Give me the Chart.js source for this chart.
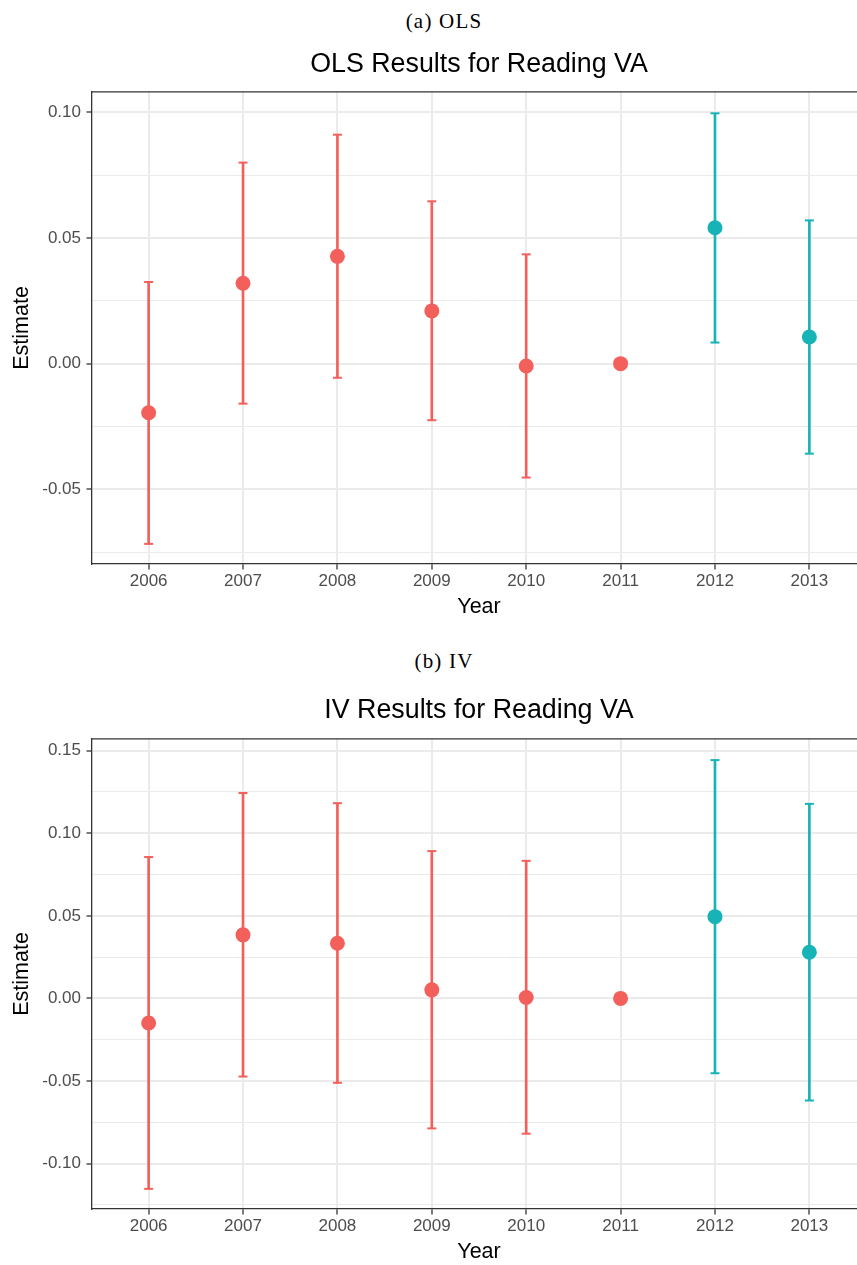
<!DOCTYPE html>
<html>
<head>
<meta charset="utf-8">
<script src="https://cdn.jsdelivr.net/npm/chart.js@4/dist/chart.umd.min.js"></script>
<style>
  html, body { margin: 0; padding: 0; background: #fff; }
  body { width: 857px; height: 1265px; overflow: hidden; position: relative; }
  .cap { position: absolute; left: 0; width: 888px; text-align: center;
         font-family: "Liberation Serif", "DejaVu Serif", serif; font-size: 21px;
         line-height: 21px; letter-spacing: 1.2px; color: #000; }
  .panel { position: absolute; left: 0; width: 866px; }
  canvas { display: block; }
</style>
</head>
<body>
<div class="cap" style="top:11px">(a) OLS</div>
<div class="panel" style="top:36px;height:586px"><canvas id="olsChart" width="866" height="586"></canvas></div>
<div class="cap" style="top:651px">(b) IV</div>
<div class="panel" style="top:683px;height:584px"><canvas id="ivChart" width="866" height="584"></canvas></div>

<script>
const years = [2006, 2007, 2008, 2009, 2010, 2011, 2012, 2013];
const period = ["pre", "pre", "pre", "pre", "pre", "pre", "post", "post"];

const olsEst = [-0.0195, 0.0320, 0.0427, 0.0210, -0.0009, 0, 0.0541, 0.0106];
const olsLo = [-0.0717, -0.0159, -0.0056, -0.0225, -0.0453, null, 0.0084, -0.0358];
const olsHi = [0.0325, 0.0800, 0.0911, 0.0646, 0.0435, null, 0.0996, 0.0570];

const ivEst = [-0.0149, 0.0385, 0.0334, 0.0052, 0.0006, 0, 0.0495, 0.0280];
const ivLo = [-0.1153, -0.0473, -0.0511, -0.0787, -0.0819, null, -0.0453, -0.0618];
const ivHi = [0.0856, 0.1244, 0.1182, 0.0892, 0.0833, null, 0.1443, 0.1178];

const olsMajor = [-0.05, 0, 0.05, 0.10];
const olsMinor = [-0.075, -0.025, 0.025, 0.075];
const ivMajor = [-0.10, -0.05, 0, 0.05, 0.10, 0.15];
const ivMinor = [-0.125, -0.075, -0.025, 0.025, 0.075, 0.125];

const colorFor = { pre: "#F3605C", post: "#17B3B6" };
const colors = period.map((p) => colorFor[p]);

const tickFont = { family: "'Liberation Sans', Arial, sans-serif", size: 17 };
const axisTitleFont = { family: "'Liberation Sans', Arial, sans-serif", size: 21.5 };

// top edge of the panel border (left/bottom come from the axes)
const topBorder = {
  id: "topBorder",
  afterDraw(chart) {
    const { ctx, chartArea } = chart;
    ctx.save();
    ctx.strokeStyle = "#333333";
    ctx.lineWidth = 1.3;
    ctx.beginPath();
    ctx.moveTo(chartArea.left, chartArea.top);
    ctx.lineTo(chartArea.right, chartArea.top);
    ctx.stroke();
    ctx.restore();
  },
};

function makePanel(id, title, est, lo, hi, major, minor, yMin, yMax, titlePad) {
  const isMajor = (v) => major.some((m) => Math.abs(m - v) < 1e-9);
  const yTicks = major.concat(minor).sort((a, b) => a - b);

  new Chart(document.getElementById(id), {
    type: "scatter",
    data: {
      datasets: [
        {
          type: "scatter",
          data: years.map((y, i) => ({ x: y, y: est[i] })),
          backgroundColor: colors,
          borderWidth: 0,
          pointRadius: 7.5,
          order: 0,
        },
        {
          type: "scatter",
          data: years.map((y, i) => ({ x: y, y: hi[i] })),
          pointStyle: "line",
          borderColor: colors,
          borderWidth: 2,
          pointRadius: 4.5,
          order: 1,
        },
        {
          type: "scatter",
          data: years.map((y, i) => ({ x: y, y: lo[i] })),
          pointStyle: "line",
          borderColor: colors,
          borderWidth: 2,
          pointRadius: 4.5,
          order: 1,
        },
        {
          type: "bar",
          data: years.map((y, i) => ({ x: y, y: lo[i] === null ? null : [lo[i], hi[i]] })),
          backgroundColor: colors,
          borderWidth: 0,
          barThickness: 2,
          order: 2,
        },
      ],
    },
    options: {
      responsive: false,
      animation: false,
      layout: { padding: 0, autoPadding: false },
      plugins: {
        legend: { display: false },
        tooltip: { enabled: false },
        title: {
          display: true,
          text: title,
          fullSize: false,
          color: "#000",
          font: { family: "'Liberation Sans', Arial, sans-serif", size: 26.8, weight: "normal" },
          padding: titlePad,
        },
      },
      scales: {
        x: {
          type: "linear",
          min: 2005.4,
          max: 2013.6,
          offset: false,
          afterFit: (s) => { s.height = 58; },
          afterBuildTicks: (s) => { s.ticks = years.map((v) => ({ value: v })); },
          grid: {
            offset: false,
            color: "#EBEBEB",
            lineWidth: 2,
            tickColor: "#333333",
            tickLength: 5.5,
            tickWidth: 1.3,
          },
          border: { display: true, color: "#333333", width: 1.3 },
          ticks: {
            color: "#4D4D4D",
            font: tickFont,
            padding: 1.6,
            maxRotation: 0,
            callback: (v) => String(v),
          },
          title: {
            display: true,
            text: "Year",
            color: "#000",
            font: axisTitleFont,
            padding: { top: 0, bottom: 2 },
          },
        },
        y: {
          type: "linear",
          min: yMin,
          max: yMax,
          afterFit: (s) => { s.width = 92; },
          afterBuildTicks: (s) => { s.ticks = yTicks.map((v) => ({ value: v })); },
          grid: {
            color: "#EBEBEB",
            lineWidth: (c) => (c.tick && isMajor(c.tick.value) ? 2 : 1),
            tickColor: (c) => (c.tick && isMajor(c.tick.value) ? "#333333" : "rgba(0,0,0,0)"),
            tickLength: 5.5,
            tickWidth: 1.3,
          },
          border: { display: true, color: "#333333", width: 1.3 },
          ticks: {
            color: "#4D4D4D",
            font: tickFont,
            padding: 5.5,
            autoSkip: false,
            callback: (v) => (isMajor(v) ? v.toFixed(2) : ""),
          },
          title: {
            display: true,
            text: "Estimate",
            color: "#000",
            font: axisTitleFont,
            padding: { top: 9.6, bottom: 0 },
          },
        },
      },
    },
    plugins: [topBorder],
  });
}

makePanel("olsChart", "OLS Results for Reading VA", olsEst, olsLo, olsHi,
  olsMajor, olsMinor, -0.0797, 0.1081, { top: 12.4, bottom: 11.4 });
makePanel("ivChart", "IV Results for Reading VA", ivEst, ivLo, ivHi,
  ivMajor, ivMinor, -0.1275, 0.1571, { top: 11.4, bottom: 12.4 });
</script>
</body>
</html>
